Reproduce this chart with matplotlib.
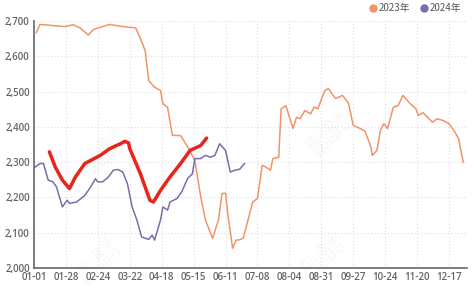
import matplotlib
matplotlib.use('Agg')
from matplotlib import pyplot as plt
from matplotlib.lines import Line2D

plt.rcParams['font.family'] = ['Noto Sans CJK SC', 'DejaVu Sans']

# day index from 01-01 (366-day axis)
d_2023 = [2, 5, 26, 33, 39, 46, 50, 56, 64, 73, 86, 90, 94, 97, 102, 107, 109, 113, 117,
          124, 130, 136, 141, 145, 151, 156, 159, 162, 164, 168, 171, 174, 177, 181, 185,
          189, 193, 196, 200, 202, 207, 209, 213, 214, 219, 222, 225, 229, 234, 237, 240,
          246, 249, 255, 261, 266, 270, 276, 280, 285, 286, 290, 293, 296, 299, 304, 308,
          312, 318, 323, 325, 329, 337, 341, 346, 351, 356, 359, 363]
v_2023 = [2667, 2690, 2684, 2689, 2680, 2660, 2675, 2682, 2690, 2685, 2680, 2650, 2616,
          2531, 2512, 2503, 2466, 2455, 2376, 2375, 2343, 2305, 2201, 2136, 2084, 2136,
          2211, 2212, 2150, 2056, 2079, 2080, 2085, 2136, 2187, 2197, 2291, 2286, 2277,
          2310, 2314, 2451, 2460, 2450, 2395, 2427, 2423, 2446, 2437, 2456, 2451, 2503,
          2508, 2480, 2489, 2466, 2404, 2395, 2387, 2343, 2319, 2333, 2390, 2409, 2395,
          2456, 2460, 2489, 2466, 2451, 2432, 2440, 2413, 2423, 2418, 2409, 2385, 2367, 2300]

d_2024 = [1, 5, 8, 12, 16, 19, 24, 28, 30, 36, 43, 47, 52, 54, 58, 63, 67, 71, 75, 79, 83,
          87, 91, 97, 100, 102, 107, 109, 113, 115, 121, 125, 130, 134, 136, 141, 145, 149,
          153, 157, 162, 166, 170, 174, 178]
v_2024 = [2286, 2296, 2296, 2249, 2244, 2230, 2173, 2192, 2183, 2187, 2206, 2225, 2253,
          2244, 2244, 2258, 2277, 2279, 2272, 2239, 2173, 2136, 2088, 2081, 2093, 2079,
          2136, 2173, 2164, 2187, 2197, 2216, 2254, 2267, 2310, 2310, 2319, 2314, 2319,
          2352, 2333, 2272, 2277, 2280, 2296]

# red hand-drawn mark on top of the chart
d_mark = [13, 18, 24, 30, 35, 43, 56, 64, 73, 77, 80, 81, 90, 98, 101, 107, 115, 124, 132, 141, 146]
v_mark = [2329, 2286, 2249, 2225, 2258, 2296, 2319, 2338, 2352, 2359, 2354, 2338, 2267,
          2192, 2187, 2220, 2258, 2296, 2333, 2347, 2368]

tick_days = [27 * i for i in range(14)]
tick_labels = ['01-01', '01-28', '02-24', '03-22', '04-18', '05-15', '06-11',
               '07-08', '08-04', '08-31', '09-27', '10-24', '11-20', '12-17']

c23 = '#f0946a'
c24 = '#7570ab'

fig = plt.figure(figsize=(4.75, 2.88), dpi=100)
ax = fig.add_axes([0.0716, 0.0694, 0.911, 0.858])

ax.plot(d_2023, v_2023, color=c23, lw=1.1)
ax.plot(d_2024, v_2024, color=c24, lw=1.1)
ax.plot(d_mark, v_mark, color='#e8241c', lw=2.5, solid_capstyle='round')

ax.set_xlim(0, 366)
ax.set_ylim(2000, 2700)
ax.set_xticks(tick_days, tick_labels)
ax.set_yticks(range(2000, 2701, 100), ['{:,}'.format(v) for v in range(2000, 2701, 100)])
ax.tick_params(length=0, labelsize=7, colors='#666666', pad=3)
for lab in ax.get_xticklabels() + ax.get_yticklabels():
    lab.set_family('Open Sans')
    lab.set_fontweight('semibold')

ax.grid(color='#dddddd', linestyle=(0, (1, 2)), lw=0.8)
for s in ['top', 'right']:
    ax.spines[s].set_visible(False)
for s in ['left', 'bottom']:
    ax.spines[s].set_color('#666666')
    ax.spines[s].set_linewidth(1.2)

# watermark
for wx, wy in [(60, 2330), (250, 2380), (55, 2020), (245, 2030)]:
    ax.text(wx, wy, '百川盈孚\nBAIINFO', rotation=45, fontsize=9, color='#000000',
            alpha=0.04, ha='center', va='center', linespacing=0.9)

handles = [Line2D([], [], marker='o', ls='none', color=c23, markersize=5),
           Line2D([], [], marker='o', ls='none', color=c24, markersize=5)]
fig.legend(handles, ['2023年', '2024年'], loc='upper right', bbox_to_anchor=(0.99, 1.02),
           ncol=2, frameon=False, fontsize=7, labelcolor='#555555',
           handletextpad=0.1, columnspacing=0.9, handlelength=1.0)

fig.savefig('out.png', dpi=100)
